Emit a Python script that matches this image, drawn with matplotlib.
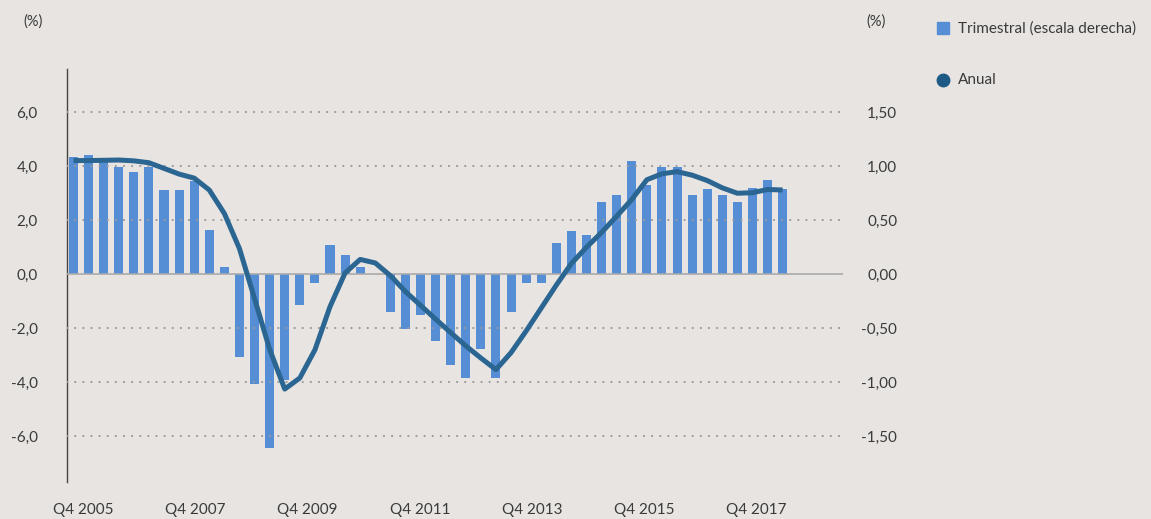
import numpy as np
import matplotlib
matplotlib.use('Agg')
import matplotlib.pyplot as plt
from matplotlib.lines import Line2D

# ---------------- data ----------------
# Quarterly growth (right scale, %), Q4 2005 onwards
quarterly = [1.09, 1.10, 1.06, 0.99, 0.95, 0.99, 0.78, 0.78, 0.86, 0.41,
             0.07, -0.77, -1.02, -1.61, -0.98, -0.28, -0.08, 0.27, 0.18, 0.07,
             0.00, -0.35, -0.51, -0.38, -0.62, -0.84, -0.96, -0.69, -0.96, -0.35,
             -0.08, -0.08, 0.29, 0.40, 0.36, 0.67, 0.73, 1.05, 0.83, 0.99,
             0.99, 0.73, 0.79, 0.73, 0.67, 0.80, 0.87, 0.79]
# Annual growth (left scale, %)
annual = [4.21, 4.21, 4.22, 4.23, 4.20, 4.13, 3.92, 3.71, 3.56, 3.12,
          2.25, 0.95, -0.90, -2.78, -4.25, -3.84, -2.80, -1.20, 0.05, 0.55,
          0.42, -0.05, -0.64, -1.15, -1.66, -2.16, -2.65, -3.10, -3.53, -2.90,
          -2.10, -1.25, -0.40, 0.40, 1.00, 1.55, 2.15, 2.77, 3.50, 3.72,
          3.80, 3.67, 3.47, 3.20, 3.00, 3.02, 3.14, 3.12]
x_labels = ['Q4 2005', 'Q4 2007', 'Q4 2009', 'Q4 2011', 'Q4 2013', 'Q4 2015', 'Q4 2017']
left_ticks = [-6, -4, -2, 0, 2, 4, 6]
right_ticks = [-1.5, -1.0, -0.5, 0.0, 0.5, 1.0, 1.5]
legend_labels = ['Trimestral (escala derecha)', 'Anual']

# ---------------- style ----------------
plt.rcParams['font.family'] = ['Lato', 'DejaVu Sans']
bg = '#E7E4E1'
bar_color = '#558ED5'
line_color = '#2B6692'
text_color = '#3A3A3A'
fs = 11

W, H = 1151, 519
fig = plt.figure(figsize=(W / 100, H / 100), dpi=100, facecolor=bg)
ax = fig.add_axes([67 / W, 1 - 482 / H, (843 - 67) / W, (482 - 69) / H])
ax2 = ax.twinx()
ax.set_zorder(2)
ax.patch.set_visible(False)
ax2.patch.set_facecolor(bg)

x = np.arange(len(quarterly))
ax2.bar(x, quarterly, width=0.6, color=bar_color, zorder=2)
ax.plot(x, annual, color=line_color, lw=3.6, solid_joinstyle='round',
        solid_capstyle='butt', zorder=5)

ax.set_xlim(-0.43, 51.0)
ylo, yhi = -7.69, 7.6
ax.set_ylim(ylo, yhi)
ax2.set_ylim(ylo / 4, yhi / 4)

# grid
for v in left_ticks:
    if v == 0:
        ax.axhline(v, color='#AAAAAA', lw=1.2, zorder=3)
    else:
        ax.axhline(v, color='#9A9A9A', lw=1.5, ls=(0, (0.1, 3.8)),
                   dash_capstyle='round', zorder=3)

# ticks
ax.set_yticks(left_ticks)
ax.set_yticklabels([f'{v:.1f}'.replace('.', ',') for v in left_ticks])
ax2.set_yticks(right_ticks)
ax2.set_yticklabels([f'{v:.2f}'.replace('.', ',') for v in right_ticks])
for lab in ax2.get_yticklabels():
    lab.set_horizontalalignment('right')
ax.tick_params(axis='y', length=0, pad=21, labelsize=fs, labelcolor=text_color)
ax2.tick_params(axis='y', length=0, pad=39, labelsize=fs, labelcolor=text_color)

ax.set_xticks(0.63 + 7.44 * np.arange(len(x_labels)))
ax.set_xticklabels(x_labels)
ax.tick_params(axis='x', length=0, pad=15, labelsize=fs, labelcolor=text_color)

for s in ['top', 'right', 'bottom']:
    ax.spines[s].set_visible(False)
ax.spines['left'].set_color('#444444')
ax.spines['left'].set_linewidth(1.0)
for s in ax2.spines.values():
    s.set_visible(False)

# unit labels
fig.text(33 / W, 1 - 22 / H, '(%)', ha='center', va='center', fontsize=10.5, color=text_color)
fig.text(876 / W, 1 - 22 / H, '(%)', ha='center', va='center', fontsize=10.5, color=text_color)

# legend (manual)
fig.add_artist(Line2D([943 / W], [1 - 28 / H], marker='s', markersize=8, color=bar_color,
                      ls='none', transform=fig.transFigure))
fig.add_artist(Line2D([943 / W], [1 - 80 / H], marker='o', markersize=9, color='#1F5A87',
                      ls='none', transform=fig.transFigure))
fig.text(958 / W, 1 - 29 / H, legend_labels[0], ha='left', va='center', fontsize=fs, color=text_color)
fig.text(958 / W, 1 - 80 / H, legend_labels[1], ha='left', va='center', fontsize=fs, color=text_color)

fig.savefig('out.png', dpi=100, facecolor=bg)
